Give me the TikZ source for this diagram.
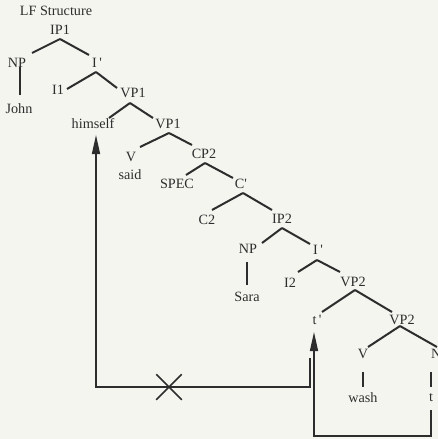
\documentclass[tikz,border=0pt]{standalone}
\usepackage{fontspec}
\setmainfont{Liberation Serif}
\usetikzlibrary{arrows.meta,calc,shapes.misc}
\definecolor{bg}{RGB}{245,245,240}
\definecolor{ink}{RGB}{45,45,45}
\newcommand{\pr}{\,\textquotesingle}
\begin{document}
\begin{tikzpicture}[x=1pt,y=-1pt,
  lbl/.style={font=\fontsize{14.2}{17}\selectfont, text=ink, inner sep=1pt},
  edge/.style={draw=ink, line width=2pt},
  link/.style={draw=ink, line width=1.5pt},
  arr/.style={link, -{Triangle[length=19pt,width=8pt]}}]
\useasboundingbox (0,0) rectangle (438,439);
\fill[bg] (0,0) rectangle (438,439);

% labels
\node[lbl] (LF) at (56,11) {LF Structure};
\node[lbl] (IP1) at (60,30) {IP1};
\node[lbl] (NPa) at (17,63) {NP};
\node[lbl] (Ia) at (97,63) {I\pr};
\node[lbl] (John) at (19,109) {John};
\node[lbl] (I1) at (58,90) {I1};
\node[lbl] (VP1a) at (133,93) {VP1};
\node[lbl] (himself) at (93,124) {himself};
\node[lbl] (VP1b) at (168,124) {VP1};
\node[lbl] (V1) at (131,157) {V};
\node[lbl] (said) at (130,175) {said};
\node[lbl] (CP2) at (204,154) {CP2};
\node[lbl] (SPEC) at (177,184) {SPEC};
\node[lbl] (Cp) at (241,184) {C\textquotesingle};
\node[lbl] (C2) at (207,220) {C2};
\node[lbl] (IP2) at (282,219) {IP2};
\node[lbl] (NPb) at (248,249) {NP};
\node[lbl] (Ib) at (318,250) {I\pr};
\node[lbl] (Sara) at (247,297) {Sara};
\node[lbl] (I2) at (290,283) {I2};
\node[lbl] (VP2a) at (353,282) {VP2};
\node[lbl] (tp) at (317,320) {t\pr};
\node[lbl] (VP2b) at (402,320) {VP2};
\node[lbl] (V2) at (363,354) {V};
\node[lbl, anchor=west] (NPc) at (430,354) {NP};
\node[lbl] (wash) at (363,398) {wash};
\node[lbl] (t) at (431,398) {t};

% tree edges
\draw[edge] ($(IP1)+(0,9)$) -- ($(NPa)+(15,-10)$);
\draw[edge] ($(IP1)+(0,9)$) -- ($(Ia)+(-8,-8)$);
\draw[edge] ($(Ia)+(-1,9)$) -- ($(I1)+(9,-1)$);
\draw[edge] ($(Ia)+(-1,9)$) -- ($(VP1a)+(-16,-5)$);
\draw[edge] ($(VP1a)+(-3,10)$) -- ($(himself)+(16,-6)$);
\draw[edge] ($(VP1a)+(-3,10)$) -- ($(VP1b)+(-15,-6)$);
\draw[edge] ($(VP1b)+(1,9)$) -- ($(V1)+(9,-10)$);
\draw[edge] ($(VP1b)+(1,9)$) -- ($(CP2)+(-12,-9)$);
\draw[edge] ($(CP2)+(1,9)$) -- ($(SPEC)+(9,-9)$);
\draw[edge] ($(CP2)+(1,9)$) -- ($(Cp)+(-8,-6)$);
\draw[edge] ($(Cp)+(2,9)$) -- ($(C2)+(5,-10)$);
\draw[edge] ($(Cp)+(2,9)$) -- ($(IP2)+(-10,-9)$);
\draw[edge] ($(IP2)+(0,9)$) -- ($(NPb)+(14,-6)$);
\draw[edge] ($(IP2)+(0,9)$) -- ($(Ib)+(-8,-6)$);
\draw[edge] ($(Ib)+(-1,10)$) -- ($(I2)+(8,-11)$);
\draw[edge] ($(Ib)+(-1,10)$) -- ($(VP2a)+(-13,-10)$);
\draw[edge] ($(VP2a)+(2,8)$) -- ($(tp)+(5,-8)$);
\draw[edge] ($(VP2a)+(2,8)$) -- ($(VP2b)+(-10,-8)$);
\draw[edge] ($(VP2b)+(-2,6)$) -- ($(V2)+(5,-7)$);
\draw[edge] ($(VP2b)+(-2,6)$) -- ($(NPc.west)+(7,-7)$);

% vertical edges
\draw[edge] ($(NPa)+(3,4)$) -- ($(John)+(1,-14)$);
\draw[edge] ($(NPb)+(-1,13)$) -- ($(Sara)+(0,-12)$);
\draw[edge] ($(V2)+(0,18)$) -- ($(wash)+(0,-11)$);
\draw[edge] ($(NPc.west)+(1,18)$) -- ($(t)+(0,-11)$);

% movement arrows
\coordinate (lstart) at (310,358);
\coordinate (lcorner) at (310,387);
\coordinate (lleft) at (96,387);
\node[cross out, draw=ink, line width=1.5pt, minimum size=24pt, inner sep=0pt] (xm) at (169,387) {};
\draw[arr] (lstart) -- (lcorner) -- (lleft) -- ($(himself)+(3,11)$);

\coordinate (rcorner) at (431,436);
\coordinate (rleft) at (314,436);
\draw[arr] ($(t)+(0,12)$) -- (rcorner) -- (rleft) -- ($(tp)+(-3,12)$);
\end{tikzpicture}
\end{document}
